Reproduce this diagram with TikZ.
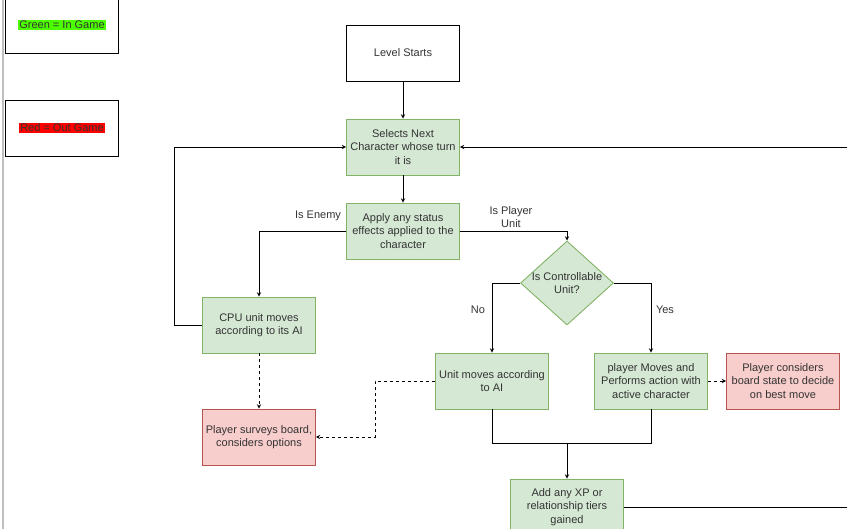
\documentclass[tikz,border=0pt]{standalone}
\usepackage{fontspec}
\setmainfont{Liberation Sans}
\usetikzlibrary{shapes,positioning,arrows,calc}
\usepackage{xcolor}
\definecolor{ingame}{HTML}{D5E8D4}
\definecolor{ingameline}{HTML}{82B366}
\definecolor{offgame}{HTML}{F8CECC}
\definecolor{offgameline}{HTML}{B85450}
\definecolor{keygreen}{HTML}{4CFF00}
\definecolor{keyred}{HTML}{FF0000}

\tikzset{
  box/.style={rectangle,draw,minimum width=113pt,minimum height=56pt,
    align=center,inner sep=2pt,font=\fontsize{11}{13.5}\selectfont,text=black!80},
  ingamebox/.style={box,fill=ingame,draw=ingameline},
  offgamebox/.style={box,fill=offgame,draw=offgameline},
  keybox/.style={box,draw=black},
  lbl/.style={align=center,font=\fontsize{11}{13.5}\selectfont,text=black!80}
}

\begin{document}
\begin{tikzpicture}[x=1pt,y=-1pt]
          \useasboundingbox[fill=white] (0,0) rectangle (847,529);
          \draw[black!25,line width=1.2pt] (3,0) -- (3,529);
          \begin{scope}[>=stealth,line width=0.9pt]
            % legend
            \node (keyin) at (62,25) [keybox]{\fboxsep=1pt\colorbox{keygreen}{Green = In Game}};
            \node (keyout) at (62,128) [keybox]{\fboxsep=1pt\colorbox{keyred}{Red = Out Game}};

            \node (start) at (403,53) [box]{Level Starts};
            \node (select) at (403,147) [ingamebox]{Selects Next\\Character whose turn\\it is};
            \node (status) at (403,231) [ingamebox]{Apply any status\\effects applied to the\\character};
            \node (ctrl) at (567,283) [diamond,draw=ingameline,fill=ingame,minimum width=93pt,minimum height=84pt,inner sep=0pt]{};
            \node (ctrltext) at (ctrl.center) [lbl]{Is Controllable\\Unit?};
            \node (cpu) at (259,325) [ingamebox]{CPU unit moves\\according to its AI};
            \node (survey) at (259,437) [offgamebox]{Player surveys board,\\considers options};
            \node (aimove) at (492,381) [ingamebox]{Unit moves according\\to AI};
            \node (pmove) at (651,381) [ingamebox]{player Moves and\\Performs action with\\active character};
            \node (consider) at (783,381) [offgamebox]{Player considers\\board state to decide\\on best move};
            \node (xp) at (567,507) [ingamebox]{Add any XP or\\relationship tiers\\gained};

            \coordinate (merge) at (567,443);
            \coordinate (offright) at (853,147);

            \draw[->] (start) -- (select);
            \draw[->] (select) -- (status);
            \draw[->] (status.west) -| (cpu.north);
            \draw[->] (status.east) -| (ctrl.north);
            \draw[->] (ctrl.west) -| (aimove.north);
            \draw[->] (ctrl.east) -| (pmove.north);
            \draw[->] (cpu.west) -- ++(-28,0) |- (select.west);
            \draw[->,dashed] (cpu) -- (survey);
            \draw[->,dashed] (aimove.west) -- ++(-60,0) |- (survey.east);
            \draw[->,dashed] (pmove) -- (consider);
            \draw (aimove.south) |- (merge);
            \draw (pmove.south) |- (merge);
            \draw[->] (merge) -- (xp.north);
            \draw[->] (xp.east) -| (offright) -- (select.east);

            \node (enemy) at (318,216) [lbl]{Is Enemy};
            \node (player) at (511,217) [lbl]{Is Player\\Unit};
            \node (no) at (478,310) [lbl]{No};
            \node (yes) at (665,310) [lbl]{Yes};
          \end{scope}
\end{tikzpicture}
\end{document}
